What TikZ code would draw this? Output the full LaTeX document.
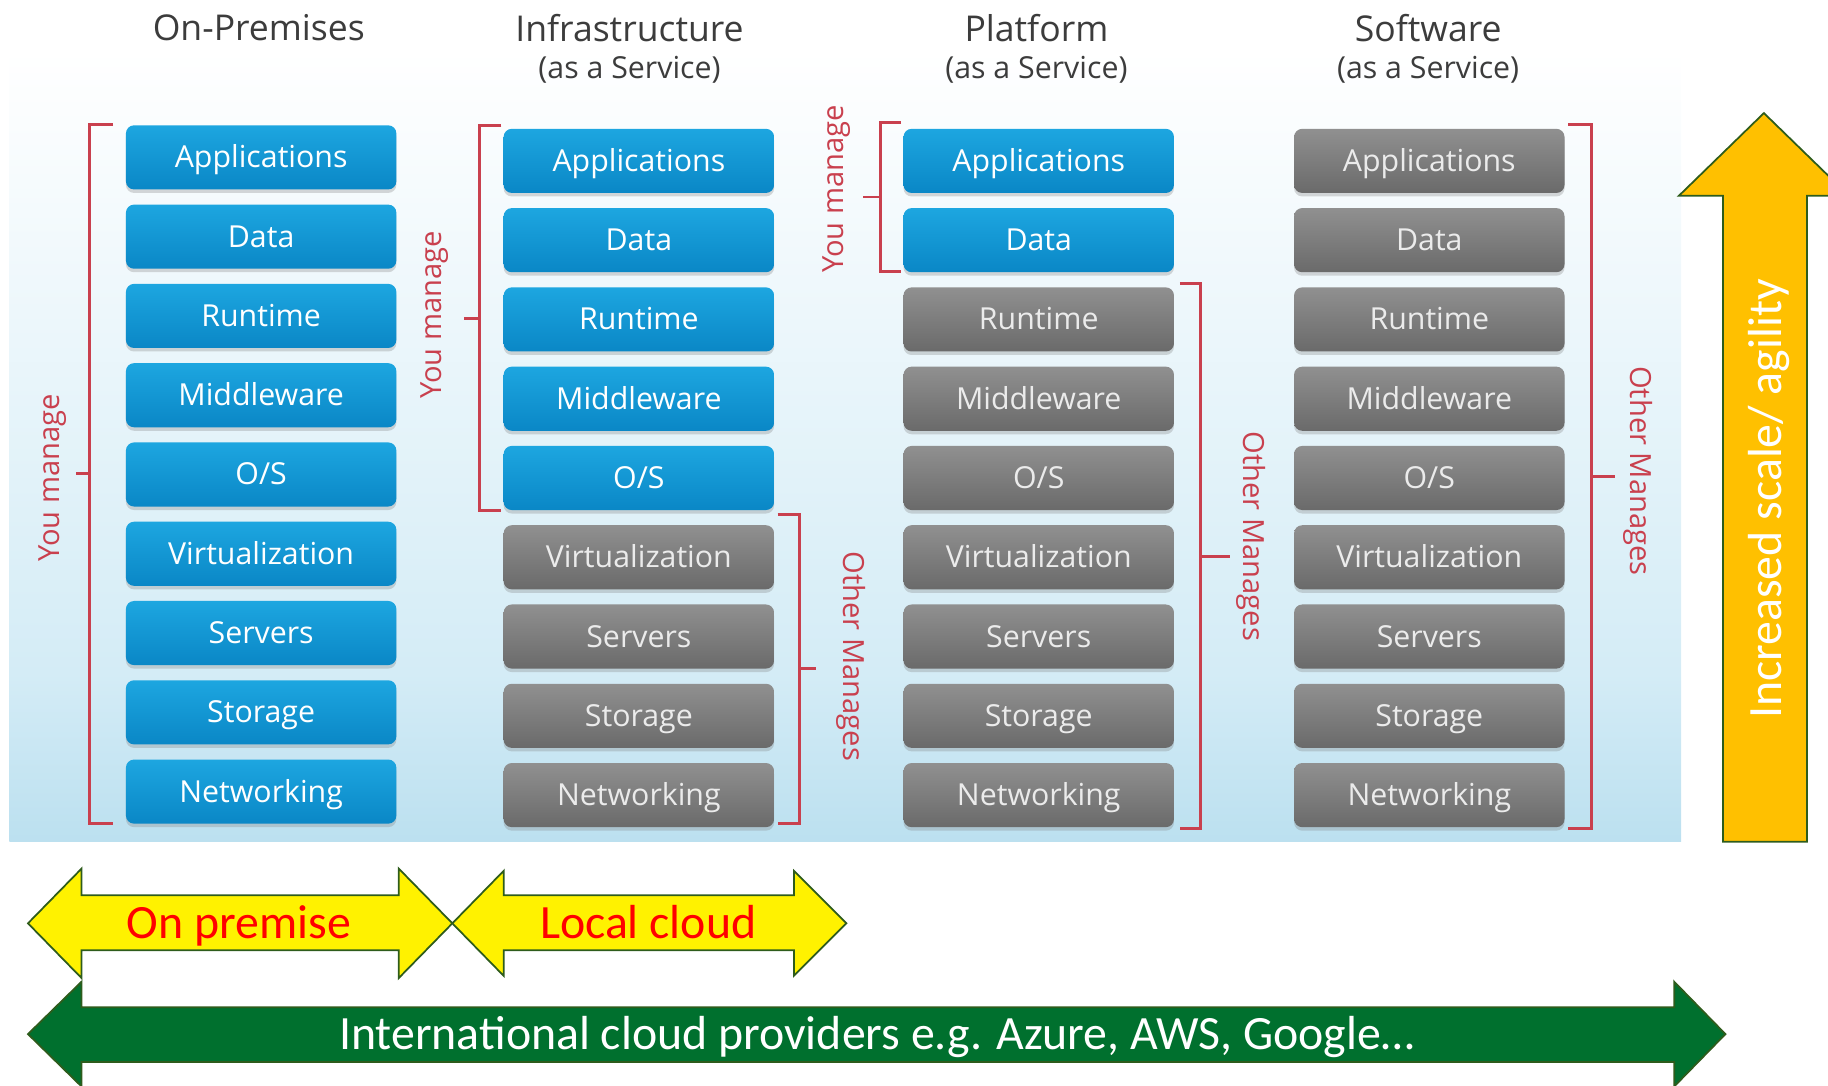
\documentclass[tikz,border=0pt]{standalone}
\usepackage{fontspec}
\setmainfont{Open Sans}
\newfontfamily\calfont{Carlito}
\usetikzlibrary{shadows}
\definecolor{boxblue}{HTML}{1DA6E0}
\definecolor{boxbluedark}{HTML}{0A87C6}
\definecolor{boxgray}{HTML}{909090}
\definecolor{boxgraydark}{HTML}{6A6A6A}
\definecolor{bracered}{HTML}{C9404E}
\definecolor{titlegray}{HTML}{3C3C3C}
\definecolor{arrowgreen}{HTML}{00702E}
\definecolor{arrowedge}{HTML}{2E5C1C}
\definecolor{upyellow}{HTML}{FFC000}
\definecolor{panelbot}{HTML}{7EC2DF}
\definecolor{panelmid}{HTML}{D4ECF6}
\pgfdeclareverticalshading{panelshade}{100bp}{color(0bp)=(panelbot); color(35bp)=(panelmid); color(72bp)=(white); color(100bp)=(white)}
\def\managebrace(#1:#2:#3)(#4:#5){\draw[bracelines] (#4,#2) -- (#1,#2) -- (#1,#3) -- (#4,#3); \draw[bracelines] (#1,{(#2+#3)/2}) -- (#5,{(#2+#3)/2});}
\tikzset{
  layer/.style={rounded corners=7pt, minimum width=232pt, minimum height=55pt, inner sep=0pt, text=white, text height=22pt, text depth=4pt, font=\fontsize{26}{30}\selectfont, drop shadow={shadow xshift=0pt, shadow yshift=-3pt, opacity=0.3}},
  mine/.style={layer, top color=boxblue, bottom color=boxbluedark},
  theirs/.style={layer, top color=boxgray, bottom color=boxgraydark, text=white!92!black},
  managed/.code 2 args={\ifnum#1>#2\relax\pgfkeysalso{theirs}\else\pgfkeysalso{mine}\fi},
  coltitle/.style={text=titlegray, font=\fontsize{30.5}{35}\selectfont},
  colsub/.style={text=titlegray, font=\fontsize{26}{30}\selectfont},
  bracelabel/.style={text=bracered, font=\fontsize{25}{29}\selectfont},
  bracelines/.style={draw=bracered, line width=2.5pt},
  bigarrow/.style={draw=arrowedge, line width=1.5pt},
  bigtext/.style={font=\calfont\fontsize{41}{48}\selectfont, text height=32pt, text depth=6pt},
}

\begin{document}
\begin{tikzpicture}[x=1pt, y=-1pt]
			%%%%% START %%%%%
			\useasboundingbox (0,0) rectangle (1568,931);
			\clip (0,0) rectangle (1568,931);
			
			\shade[shading=panelshade] (8,0) rectangle (1442,722);
			
			\node[coltitle] (optitle) at (222,24) {On-Premises};
			\node[coltitle] (iatitle) at (540,24) {Infrastructure};
			\node[colsub] (iasub) at (540,60) {(as a Service)};
			\node[coltitle] (patitle) at (889,24) {Platform};
			\node[colsub] (pasub) at (889,60) {(as a Service)};
			\node[coltitle] (satitle) at (1225,24) {Software};
			\node[colsub] (sasub) at (1225,60) {(as a Service)};
			
			\foreach \lay [count=\i, evaluate=\i as \ya using 67+68*\i, evaluate=\i as \yb using 70+68*\i] in {Applications,Data,Runtime,Middleware,{O/S},Virtualization,Servers,Storage,Networking} {
				\node[managed={\i}{9}] (op\i) at (224,\ya) {\lay};
				\node[managed={\i}{5}] (ia\i) at (548,\yb) {\lay};
				\node[managed={\i}{2}] (pa\i) at (891,\yb) {\lay};
				\node[managed={\i}{0}] (sa\i) at (1226,\yb) {\lay};
			}
			
			\managebrace(77:107:706)(97:65);
			\node[bracelabel, rotate=90] (opyou) at (45,410) {You manage};
			
			\managebrace(411:108:438)(430:398);
			\node[bracelabel, rotate=90] (iayou) at (373,270) {You manage};
			\managebrace(686:441:706)(667:700);
			\node[bracelabel, rotate=-90] (iaother) at (730,563) {Other Manages};
			
			\managebrace(755:105:233)(773:740);
			\node[bracelabel, rotate=90] (payou) at (718,162) {You manage};
			\managebrace(1030:243:711)(1012:1055);
			\node[bracelabel, rotate=-90] (paother) at (1073,460) {Other Manages};
			
			\managebrace(1365:107:711)(1345:1385);
			\node[bracelabel, rotate=-90] (saother) at (1405,404) {Other Manages};
			
			\draw[bigarrow, fill=upyellow] (1478,722) -- (1478,168) -- (1440,168) -- (1513,97) -- (1586,168) -- (1550,168) -- (1550,722) -- cycle;
			\node[bigtext, text=white, rotate=90] (scale) at (1515,428) {Increased scale/ agility};
			
			\draw[bigarrow, fill=yellow] (24,792) -- (70,745) -- (70,768) -- (342,768) -- (342,745) -- (388,792) -- (342,839) -- (342,815) -- (70,815) -- (70,839) -- cycle;
			\node[bigtext, text=red] (onprem) at (205,792) {On premise};
			\draw[bigarrow, fill=yellow] (388,792) -- (432,747) -- (432,768) -- (681,768) -- (681,747) -- (726,792) -- (681,837) -- (681,815) -- (432,815) -- (432,837) -- cycle;
			\node[bigtext, text=red] (localcloud) at (556,792) {Local cloud};
			
			\draw[bigarrow, fill=arrowgreen] (24,887) -- (70,842) -- (70,864) -- (1436,864) -- (1436,842) -- (1480,887) -- (1436,932) -- (1436,911) -- (70,911) -- (70,932) -- cycle;
			\node[bigtext, text=white] (intl) at (752,887) {International cloud providers e.g. Azure, AWS, Google…};
			%%%%% END %%%%%
\end{tikzpicture}
\end{document}
